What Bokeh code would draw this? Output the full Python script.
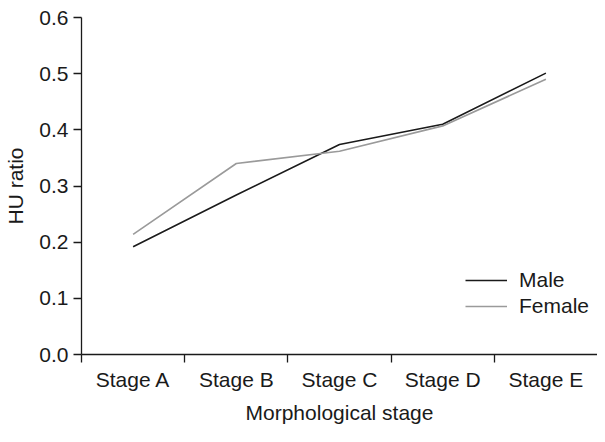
from bokeh.plotting import figure
from bokeh.models import Range1d, FixedTicker, Legend, LegendItem
from bokeh.embed import file_html
from bokeh.resources import INLINE

categories = ["Stage A", "Stage B", "Stage C", "Stage D", "Stage E"]
male = [0.192, 0.284, 0.374, 0.410, 0.501]
female = [0.214, 0.340, 0.362, 0.407, 0.490]
y_ticks = [0.0, 0.1, 0.2, 0.3, 0.4, 0.5, 0.6]

FONT = "Liberation Sans"
FS = "21px"

xs = [i + 0.5 for i in range(len(categories))]

p = figure(width=597, height=426, output_backend="svg", toolbar_location=None,
           x_range=Range1d(0, len(categories)), y_range=Range1d(0, 0.6),
           min_border_left=81, min_border_right=0, min_border_top=17, min_border_bottom=60)
p.outline_line_color = None
p.xgrid.visible = False
p.ygrid.visible = False

r_m = p.line(xs, male, line_color="#1a1a1a", line_width=1.6)
r_f = p.line(xs, female, line_color="#9a9a9a", line_width=1.6)

# x axis: labels at category centres, ticks at boundaries
xa = p.xaxis[0]
xa.ticker = FixedTicker(ticks=xs, minor_ticks=list(range(len(categories))))
xa.major_label_overrides = {x: c for x, c in zip(xs, categories)}
xa.major_tick_out = 0
xa.major_tick_in = 0
xa.minor_tick_out = 8
xa.minor_tick_in = 0
xa.minor_tick_line_color = "#1a1a1a"
xa.minor_tick_line_width = 1.3
xa.axis_label = "Morphological stage"
xa.major_label_standoff = 5
xa.axis_label_standoff = 7

ya = p.yaxis[0]
ya.ticker = FixedTicker(ticks=y_ticks)
ya.major_label_overrides = {t: f"{t:.1f}" for t in y_ticks}
ya.major_tick_out = 8
ya.major_tick_in = 0
ya.minor_tick_out = 0
ya.minor_tick_in = 0
ya.axis_label = "HU ratio"
ya.major_label_standoff = 5
ya.axis_label_standoff = 9

for ax in (xa, ya):
    ax.axis_line_color = "#1a1a1a"
    ax.axis_line_width = 1.3
    ax.major_tick_line_color = "#1a1a1a"
    ax.major_tick_line_width = 1.3
    ax.major_label_text_font = FONT
    ax.major_label_text_font_size = FS
    ax.major_label_text_color = "#1a1a1a"
    ax.axis_label_text_font = FONT
    ax.axis_label_text_font_size = FS
    ax.axis_label_text_font_style = "normal"
    ax.axis_label_text_color = "#1a1a1a"

legend = Legend(items=[LegendItem(label="Male", renderers=[r_m]),
                       LegendItem(label="Female", renderers=[r_f])],
                location=(384, 36), padding=0, margin=0, spacing=2,
                glyph_width=42, glyph_height=20, label_height=20, label_standoff=12,
                border_line_color=None, background_fill_alpha=0,
                label_text_font=FONT, label_text_font_size=FS, label_text_color="#1a1a1a")
p.add_layout(legend, "center")

open("out.html", "w").write(file_html(p, INLINE))
